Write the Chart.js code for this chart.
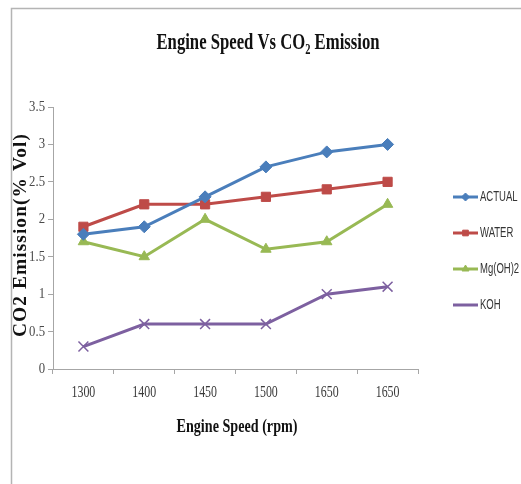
<!DOCTYPE html>
<html>
<head>
<meta charset="utf-8">
<script src="https://cdn.jsdelivr.net/npm/chart.js@4/dist/chart.umd.min.js"></script>
<style>
  html, body { margin: 0; padding: 0; background: #fff; }
  canvas { display: block; }
</style>
</head>
<body>
<canvas id="chart" width="521" height="484"></canvas>
<script>
// data
const speeds = ['1300', '1400', '1450', '1500', '1650', '1650'];
const actual = [1.8, 1.9, 2.3, 2.7, 2.9, 3.0];
const water = [1.9, 2.2, 2.2, 2.3, 2.4, 2.5];
const mgoh = [1.7, 1.5, 2.0, 1.6, 1.7, 2.2];
const koh = [0.3, 0.6, 0.6, 0.6, 1.0, 1.1];
const seriesNames = ['ACTUAL', 'WATER', 'Mg(OH)2', 'KOH'];
const yMin = 0, yMax = 3.5, yStep = 0.5;

const colors = ['#4a7ebb', '#be4b48', '#98b954', '#7d60a0'];
const styles = ['rectRot', 'rect', 'triangle', 'crossRot'];

// draw text squeezed/stretched to a target width (the source image is narrow)
function fitText(ctx, text, x, y, font, width, align, color, rot) {
  ctx.save();
  ctx.font = font;
  const w = ctx.measureText(text).width;
  ctx.translate(x, y);
  if (rot) ctx.rotate(rot);
  ctx.scale(width / w, 1);
  ctx.fillStyle = color;
  ctx.textAlign = align;
  ctx.textBaseline = 'middle';
  ctx.fillText(text, 0, 0);
  ctx.restore();
}

function scaledText(ctx, text, x, y, font, sx, align, color) {
  ctx.save();
  ctx.font = font;
  ctx.translate(x, y);
  ctx.scale(sx, 1);
  ctx.fillStyle = color;
  ctx.textAlign = align;
  ctx.textBaseline = 'middle';
  ctx.fillText(text, 0, 0);
  ctx.restore();
}

const textPlugin = {
  id: 'textPlugin',
  beforeDraw(chart) {
    const ctx = chart.ctx;
    ctx.save();
    ctx.fillStyle = '#fff';
    ctx.fillRect(0, 0, chart.width, chart.height);
    ctx.strokeStyle = '#b4b4b4';
    ctx.lineWidth = 1.5;
    ctx.beginPath();
    ctx.moveTo(11.5, chart.height);
    ctx.lineTo(11.5, 8.5);
    ctx.lineTo(chart.width, 8.5);
    ctx.stroke();
    ctx.restore();
  },
  afterDraw(chart) {
    const ctx = chart.ctx;
    const xs = chart.scales.x, ys = chart.scales.y;

    // title with subscript 2
    ctx.save();
    const big = 'bold 24px "Liberation Serif"', small = 'bold 15px "Liberation Serif"';
    const p1 = 'Engine Speed Vs CO', p2 = '2', p3 = ' Emission';
    ctx.font = big;
    const w1 = ctx.measureText(p1).width, w3 = ctx.measureText(p3).width;
    ctx.font = small;
    const w2 = ctx.measureText(p2).width;
    const total = w1 + w2 + w3, target = 223, sx = target / total;
    ctx.translate(268 - target / 2, 43);
    ctx.scale(sx, 1);
    ctx.fillStyle = '#111';
    ctx.textBaseline = 'middle';
    ctx.textAlign = 'left';
    ctx.font = big; ctx.fillText(p1, 0, 0);
    ctx.font = small; ctx.fillText(p2, w1, 7);
    ctx.font = big; ctx.fillText(p3, w1 + w2, 0);
    ctx.restore();

    // axis titles
    fitText(ctx, 'Engine Speed (rpm)', 237, 427, 'bold 18px "Liberation Serif"', 121, 'center', '#111');
    ctx.save();
    ctx.letterSpacing = '1px';
    fitText(ctx, 'CO2 Emission(% Vol)', 21, 235, 'bold 18px "Liberation Serif"', 204, 'center', '#111', -Math.PI / 2);
    ctx.restore();

    // tick labels from the scales
    xs.getTicks().forEach((t, i) => {
      scaledText(ctx, speeds[i], xs.getPixelForTick(i), 393, '17px "Liberation Serif"', 0.7, 'center', '#3a3a3a');
    });
    ys.getTicks().forEach(t => {
      scaledText(ctx, String(t.value), 45, ys.getPixelForValue(t.value), '15px "Liberation Serif"', 0.85, 'right', '#4a4a4a');
    });

    // legend
    chart.data.datasets.forEach((ds, i) => {
      const ly = 197 + i * 36;
      ctx.save();
      ctx.strokeStyle = ds.borderColor;
      ctx.lineWidth = 3;
      ctx.beginPath();
      ctx.moveTo(453, ly);
      ctx.lineTo(478, ly);
      ctx.stroke();
      ctx.fillStyle = ds.pointBackgroundColor;
      ctx.strokeStyle = ds.pointBorderColor;
      ctx.lineWidth = 1;
      if (ds.pointStyle !== 'crossRot') {
        Chart.helpers.drawPoint(ctx, { pointStyle: ds.pointStyle, radius: 4, borderWidth: 1, rotation: 0 }, 465.5, ly);
      }
      ctx.restore();
      scaledText(ctx, ds.label, 480, ly, '14px "Liberation Sans"', 0.68, 'left', '#333');
    });
  }
};

function makeSet(label, data, i) {
  return {
    label: label,
    data: data,
    borderColor: colors[i],
    backgroundColor: colors[i],
    pointBackgroundColor: colors[i],
    pointBorderColor: colors[i],
    pointStyle: styles[i],
    pointRadius: styles[i] === 'crossRot' ? 7 : (styles[i] === 'rect' ? 6.5 : 6),
    pointBorderWidth: styles[i] === 'crossRot' ? 1.5 : 1,
    borderWidth: 3,
    tension: 0
  };
}

const ctx = document.getElementById('chart').getContext('2d');
const chart = new Chart(ctx, {
  type: 'line',
  data: {
    labels: speeds,
    datasets: [
      makeSet(seriesNames[0], actual, 0),
      makeSet(seriesNames[1], water, 1),
      makeSet(seriesNames[2], mgoh, 2),
      makeSet(seriesNames[3], koh, 3)
    ]
  },
  options: {
    responsive: false,
    animation: false,
    devicePixelRatio: 1,
    layout: { padding: { left: 0, top: 107, right: 103, bottom: 0 } },
    plugins: {
      legend: { display: false },
      title: { display: false },
      tooltip: { enabled: false }
    },
    scales: {
      x: {
        offset: true,
        grid: { offset: true, drawOnChartArea: false, drawTicks: true, tickLength: 5, color: '#a6a6a6' },
        border: { display: true, color: '#a6a6a6', width: 1 },
        ticks: { display: false },
        afterFit(scale) { scale.height = 115; }
      },
      y: {
        min: yMin,
        max: yMax,
        grid: { drawOnChartArea: false, drawTicks: true, tickLength: 5, color: '#a6a6a6' },
        border: { display: true, color: '#a6a6a6', width: 1 },
        ticks: { display: false, stepSize: yStep },
        afterFit(scale) { scale.width = 53; }
      }
    }
  },
  plugins: [textPlugin]
});
</script>
</body>
</html>
